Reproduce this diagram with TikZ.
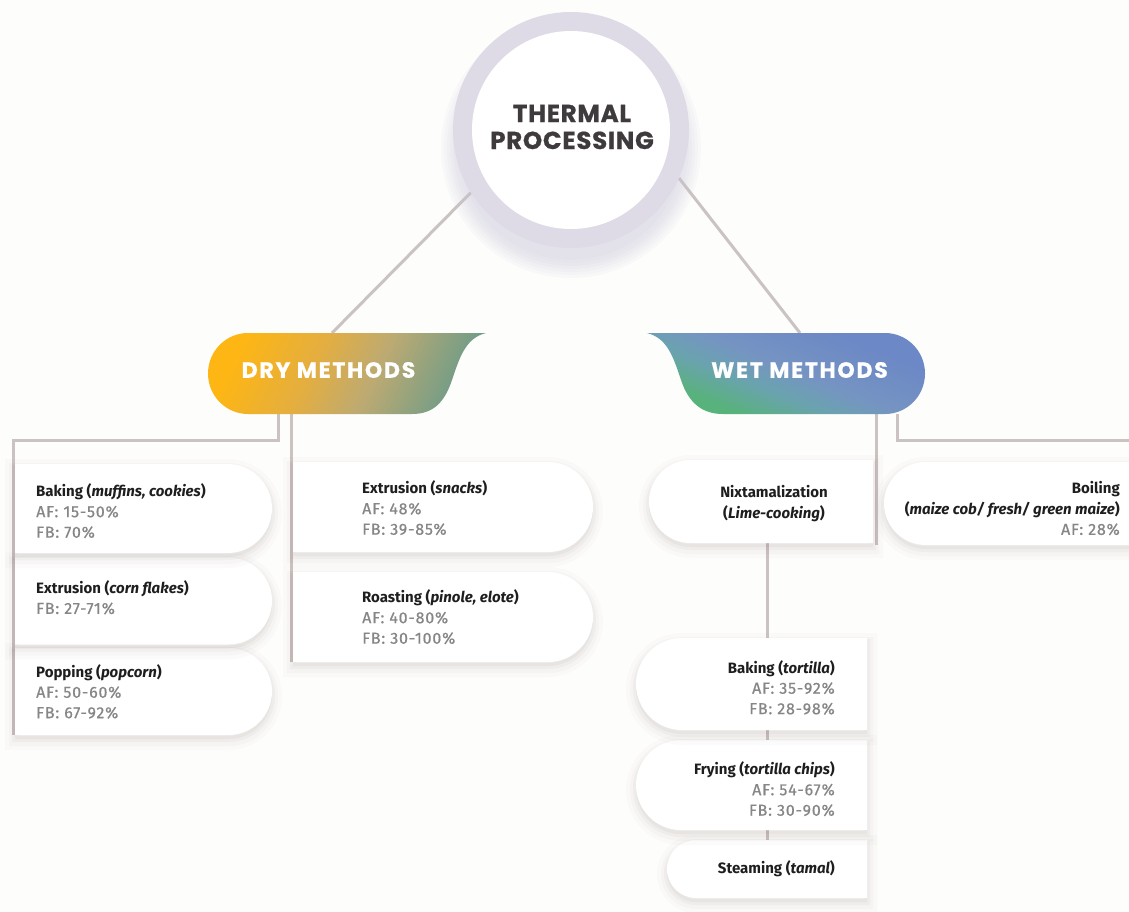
\documentclass[tikz,border=0pt]{standalone}
\usepackage{fontspec}
\setmainfont{Fira Sans}
\newfontfamily\hfont{Poppins}[BoldFeatures={FakeBold=0.7}]
\newfontfamily\afont{Fira Sans}[FakeBold=0.6]
\usetikzlibrary{shapes.misc}
\definecolor{bgc}{HTML}{FDFDFB}
\definecolor{ring}{HTML}{DEDBE7}
\definecolor{ringsh}{HTML}{C9C4DA}
\definecolor{shc}{HTML}{6B5A5A}
\definecolor{ttlc}{HTML}{3F3A3E}
\definecolor{linec}{HTML}{CBC3C2}
\definecolor{itemc}{HTML}{1E1E1E}
\definecolor{afc}{HTML}{868686}
\definecolor{dryA}{HTML}{FDB614}
\definecolor{dryN}{HTML}{E4AE40}
\definecolor{dryM}{HTML}{BDAA72}
\definecolor{dryB}{HTML}{6E9C88}
\definecolor{wetA}{HTML}{6D88C6}
\definecolor{wetM}{HTML}{7594C2}
\definecolor{wetN}{HTML}{6AA3AE}
\definecolor{wetB}{HTML}{58B27B}
\pgfdeclarehorizontalshading{drysh}{100bp}{color(0bp)=(dryA); color(25bp)=(dryA); color(42bp)=(dryN); color(56bp)=(dryM); color(75bp)=(dryB); color(100bp)=(dryB)}
\pgfdeclareverticalshading{wetsh}{100bp}{color(0bp)=(wetB); color(30bp)=(wetB); color(42bp)=(wetN); color(52bp)=(wetM); color(70bp)=(wetA); color(100bp)=(wetA)}
\pgfdeclarelayer{bg}
\pgfsetlayers{bg,main}
\newcommand{\af}[1]{{\afont\fontsize{16}{20.5}\selectfont\addfontfeature{LetterSpace=5}\textcolor{afc}{#1}}}
\begin{document}
\begin{tikzpicture}[x=1pt,y=-1pt,
  conn/.style={draw=linec, line width=3pt},
  card/.style={fill=white, inner sep=0,
    preaction={draw=shc, line width=20pt, opacity=0.02, transform canvas={yshift=-5pt}},
    preaction={draw=shc, line width=12pt, opacity=0.03, transform canvas={yshift=-5pt}},
    preaction={draw=shc, line width=6pt, opacity=0.045, transform canvas={yshift=-4pt}},
    preaction={fill=shc, opacity=0.06, transform canvas={yshift=-4pt}}},
  rcard/.style={card, rounded rectangle, rounded rectangle west arc=none},
  lcard/.style={card, rounded rectangle, rounded rectangle east arc=none},
  itemtext/.style={inner sep=0, text=itemc, font=\fontsize{15}{20.5}\selectfont},
  head/.style={text=white, font=\hfont\bfseries\fontsize{22}{24}\selectfont\addfontfeature{LetterSpace=8}, inner sep=0}
]
\begin{pgfonlayer}{bg}
\fill[bgc] (0,0) rectangle (1129,912);
\end{pgfonlayer}
\useasboundingbox (0,0) rectangle (1129,912);

% soft shadow of the central circle
\foreach \r in {112,115,...,130}
  \fill[ringsh, opacity=0.08] (571,148) circle[radius=\r];

% central circle
\node[circle, fill=ring, minimum size=236, inner sep=0] (tp) at (571,130) {};
\node[circle, fill=white, minimum size=198, inner sep=0] (tpin) at (tp.center) {};
\node[align=center, text=ttlc, font=\hfont\bfseries\fontsize{24.5}{27}\selectfont\addfontfeature{LetterSpace=3}, inner sep=0] (tpt) at (572,127) {THERMAL\\PROCESSING};

% dry methods
\coordinate (dryT) at (332,333);
\coordinate (dryB1) at (278,414);
\coordinate (dryB2) at (291,414);
\coordinate (dryJ) at (278,440);
\coordinate (dryL1) at (13,440);
\coordinate (dryL2) at (13,735);
\coordinate (dryR2) at (291,662);
\shade[shading=drysh, shading angle=-25]
  (486,333) -- (248,333) .. controls (226,333) and (208,351) .. (208,373.5)
  .. controls (208,396) and (226,414) .. (248,414) -- (412,414)
  .. controls (432,414) and (444,404) .. (452,380)
  .. controls (460,356) and (466,338) .. (486,333) -- cycle;
\node[head] (dryt) at (328.5,370) {DRY METHODS};

% wet methods
\coordinate (wetT) at (800,333);
\coordinate (wetB1) at (876,414);
\coordinate (wetB2) at (897,414);
\coordinate (wetJ) at (897,440);
\coordinate (wetR) at (1129,440);
\coordinate (wetL) at (876,545);
\coordinate (nixB) at (767,543);
\shade[shading=wetsh, shading angle=-22]
  (647,333) -- (885,333) .. controls (907,333) and (925,351) .. (925,373.5)
  .. controls (925,396) and (907,414) .. (885,414) -- (723,414)
  .. controls (703,414) and (689,404) .. (681,380)
  .. controls (673,356) and (667,338) .. (647,333) -- cycle;
\node[head] (wett) at (799.5,370) {WET METHODS};

% dry cards, column 1
\node[rcard, minimum width=257, minimum height=87] (b3) at (143.5,691.5) {};
\node[rcard, minimum width=257, minimum height=87] (b2) at (143.5,601) {};
\node[rcard, minimum width=257, minimum height=89] (b1) at (143.5,508.5) {};
\node[itemtext, anchor=west, align=left] (b1t) at (36,511) {\textbf{Baking (\textit{muffins, cookies})}\\\af{AF: 15-50\%}\\\af{FB: 70\%}};
\node[itemtext, anchor=west, align=left] (b2t) at (36,597.5) {\textbf{Extrusion (\textit{corn flakes})}\\\af{FB: 27-71\%}};
\node[itemtext, anchor=west, align=left] (b3t) at (36,691.5) {\textbf{Popping (\textit{popcorn})}\\\af{AF: 50-60\%}\\\af{FB: 67-92\%}};

% dry cards, column 2
\node[rcard, minimum width=300, minimum height=90] (c2) at (443,617) {};
\node[rcard, minimum width=300, minimum height=90] (c1) at (443,507) {};
\node[itemtext, anchor=west, align=left] (c1t) at (362,508) {\textbf{Extrusion (\textit{snacks})}\\\af{AF: 48\%}\\\af{FB: 39-85\%}};
\node[itemtext, anchor=west, align=left] (c2t) at (362,617) {\textbf{Roasting (\textit{pinole, elote})}\\\af{AF: 40-80\%}\\\af{FB: 30-100\%}};

% wet cards
\node[lcard, minimum width=224, minimum height=83] (n1) at (761,501.5) {};
\node[lcard, minimum width=270, minimum height=83] (bo) at (1019,503.5) {};
\node[itemtext, align=center] (n1t) at (774,503.5) {\textbf{Nixtamalization}\\\textbf{(\textit{Lime-cooking})}};
\node[itemtext, anchor=east, align=right] (bot) at (1120,508.5) {\textbf{Boiling}\\\textbf{(\textit{maize cob/ fresh/ green maize})}\\\af{AF: 28\%}};

\node[lcard, minimum width=200, minimum height=58] (t3) at (767,869) {};
\node[lcard, minimum width=231, minimum height=90] (t2) at (751.5,785) {};
\node[lcard, minimum width=231, minimum height=92] (t1) at (751.5,684) {};
\node[itemtext, anchor=east, align=right] (t1t) at (835,687.5) {\textbf{Baking (\textit{tortilla})}\\\af{AF: 35-92\%}\\\af{FB: 28-98\%}};
\node[itemtext, anchor=east, align=right] (t2t) at (835,789) {\textbf{Frying (\textit{tortilla chips})}\\\af{AF: 54-67\%}\\\af{FB: 30-90\%}};
\node[itemtext, anchor=east, align=right] (t3t) at (835,869) {\textbf{Steaming (\textit{tamal})}};

% connectors
\begin{pgfonlayer}{bg}
\draw[conn] (tp.212) -- (dryT);
\draw[conn] (tp.336) -- (wetT);
\draw[conn] (dryB1) -- (dryJ) -- (dryL1) -- (dryL2);
\draw[conn] (dryB2) -- (dryR2);
\draw[conn] (wetB1) -- (wetL);
\draw[conn] (wetB2) -- (wetJ) -- (wetR);
\draw[conn] (nixB) -- (nixB |- t3.north);
\end{pgfonlayer}
\end{tikzpicture}
\end{document}
